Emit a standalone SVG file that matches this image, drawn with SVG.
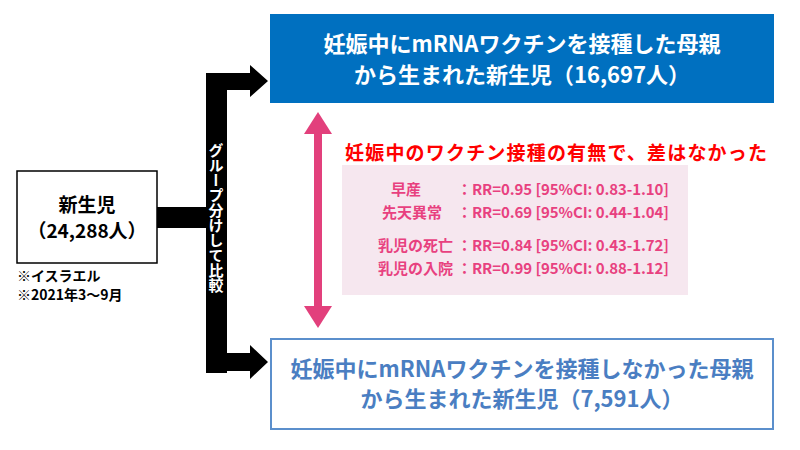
<svg xmlns="http://www.w3.org/2000/svg" width="800" height="450" viewBox="0 0 800 450">
<style>
text{font-family:"Noto Sans CJK JP","Noto Sans",sans-serif;font-weight:bold}
.pk{fill:#e8417f;font-size:15px}
</style>
<rect width="800" height="450" fill="#fff"/>
<g id="connectors">
<rect x="157" y="207" width="50" height="21" fill="#000"/>
<rect x="206" y="73" width="21" height="300" fill="#000"/>
<polygon points="206,73 250,73 250,65 268,81 250,97 250,90 206,90" fill="#000"/>
<polygon points="206,353 250,353 250,345 268,362 250,379 250,371 206,371" fill="#000"/>
<text x="216" y="143" fill="#fff" font-size="15" writing-mode="tb" letter-spacing="0">グループ分けして比較</text>
<line x1="318" y1="130" x2="318" y2="310" stroke="#e2407c" stroke-width="8"/>
<polygon points="318,112 304,134 332,134" fill="#e2407c"/>
<polygon points="318,328 304,306 332,306" fill="#e2407c"/>
</g>
<g id="root">
<rect x="17" y="171" width="140" height="92" fill="#fff" stroke="#000" stroke-width="1.5"/>
<text x="87" y="212" text-anchor="middle" font-size="19">新生児</text>
<text x="87" y="238" text-anchor="middle" font-size="19">（24,288人）</text>
<text x="17" y="281" font-size="14">※イスラエル</text>
<text x="17" y="300" font-size="14">※2021年3～9月</text>
</g>
<g id="top">
<rect x="270" y="14" width="504" height="89" fill="#0070c0"/>
<text x="522" y="52" text-anchor="middle" font-size="22" fill="#fff">妊娠中にmRNAワクチンを接種した母親</text>
<text x="522" y="83" text-anchor="middle" font-size="22" fill="#fff">から生まれた新生児（16,697人）</text>
</g>
<g id="bottom">
<rect x="271" y="339" width="502" height="90" fill="#fff" stroke="#5b8fcc" stroke-width="2"/>
<text x="522" y="377" text-anchor="middle" font-size="22" fill="#4a7ec2">妊娠中にmRNAワクチンを接種しなかった母親</text>
<text x="522" y="407" text-anchor="middle" font-size="22" fill="#4a7ec2">から生まれた新生児（7,591人）</text>
</g>
<g id="result">
<text x="345" y="160" font-size="19" fill="#ff0000" textLength="422">妊娠中のワクチン接種の有無で、差はなかった</text>
<rect x="342" y="165" width="346" height="130" fill="#f6e7ef"/>
<text class="pk" x="421" y="195" text-anchor="end" font-size="17">早産</text>
<text class="pk" x="442" y="218" text-anchor="end" font-size="17">先天異常</text>
<text class="pk" x="453" y="251" text-anchor="end" font-size="17">乳児の死亡</text>
<text class="pk" x="453" y="274" text-anchor="end" font-size="17">乳児の入院</text>
<text class="pk" x="457" y="195" textLength="212">：RR=0.95 [95%CI: 0.83-1.10]</text>
<text class="pk" x="457" y="218" textLength="212">：RR=0.69 [95%CI: 0.44-1.04]</text>
<text class="pk" x="457" y="251" textLength="212">：RR=0.84 [95%CI: 0.43-1.72]</text>
<text class="pk" x="457" y="274" textLength="212">：RR=0.99 [95%CI: 0.88-1.12]</text>
</g>
</svg>
